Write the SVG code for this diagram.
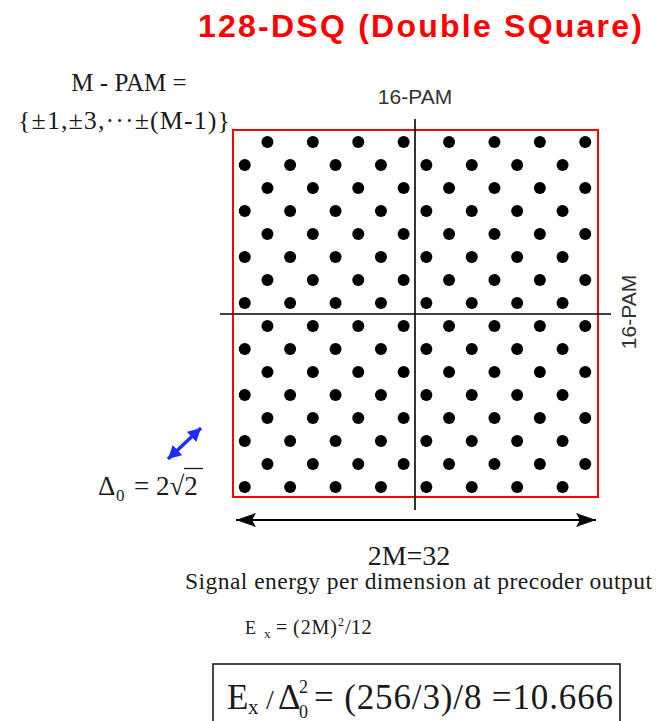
<svg xmlns="http://www.w3.org/2000/svg" width="660" height="721" viewBox="0 0 660 721">
<style>
.serif{font-family:"Liberation Serif","Times New Roman",serif;fill:#1a1a1a}
.sans{font-family:"Liberation Sans",Arial,sans-serif;fill:#333}
.dot{fill:#000}
.axis{stroke:#000;stroke-width:1.6;fill:none}
</style>
<defs>
<marker id="ahBlack" markerUnits="userSpaceOnUse" markerWidth="22" markerHeight="16" refX="20" refY="7" orient="auto-start-reverse">
<path d="M0,0 L20,7 L0,14 L4,7 z" fill="#000"/>
</marker>
<marker id="ahBlue" markerUnits="userSpaceOnUse" markerWidth="16" markerHeight="16" refX="13" refY="7" orient="auto-start-reverse">
<path d="M0,0 L13,7 L0,14 z" fill="#1f2bff"/>
</marker>
<g id="rowA">
<circle class="dot" cx="267.45" cy="0" r="6"/>
<circle class="dot" cx="312.85" cy="0" r="6"/>
<circle class="dot" cx="358.25" cy="0" r="6"/>
<circle class="dot" cx="403.65" cy="0" r="6"/>
<circle class="dot" cx="449.05" cy="0" r="6"/>
<circle class="dot" cx="494.45" cy="0" r="6"/>
<circle class="dot" cx="539.85" cy="0" r="6"/>
<circle class="dot" cx="585.25" cy="0" r="6"/>
</g>
<g id="rowB">
<circle class="dot" cx="244.75" cy="0" r="6"/>
<circle class="dot" cx="290.15" cy="0" r="6"/>
<circle class="dot" cx="335.55" cy="0" r="6"/>
<circle class="dot" cx="380.95" cy="0" r="6"/>
<circle class="dot" cx="426.35" cy="0" r="6"/>
<circle class="dot" cx="471.75" cy="0" r="6"/>
<circle class="dot" cx="517.15" cy="0" r="6"/>
<circle class="dot" cx="562.55" cy="0" r="6"/>
</g>
</defs>

<g id="title">
<text x="198" y="37" font-family="Liberation Sans, Arial, sans-serif" font-weight="bold" font-size="32" fill="#ff0000" textLength="444">128-DSQ (Double SQuare)</text>
</g>

<g id="mpam-label">
<text class="serif" x="129" y="91" font-size="25" text-anchor="middle">M - PAM =</text>
<text class="serif" x="18" y="129" font-size="26" textLength="212">{±1,±3,···±(M-1)}</text>
</g>

<g id="constellation">
<rect x="233" y="130" width="365" height="367" fill="none" stroke="#ff0000" stroke-width="2"/>
<use href="#rowA" y="142"/>
<use href="#rowB" y="165"/>
<use href="#rowA" y="188"/>
<use href="#rowB" y="211"/>
<use href="#rowA" y="234"/>
<use href="#rowB" y="257"/>
<use href="#rowA" y="280"/>
<use href="#rowB" y="303"/>
<use href="#rowA" y="326"/>
<use href="#rowB" y="349"/>
<use href="#rowA" y="372"/>
<use href="#rowB" y="395"/>
<use href="#rowA" y="418"/>
<use href="#rowB" y="441"/>
<use href="#rowA" y="464"/>
<use href="#rowB" y="487"/>
</g>

<g id="connectors">
<line class="axis" x1="415" y1="119" x2="415" y2="510"/>
<line class="axis" x1="220" y1="314" x2="611" y2="314"/>
<line x1="236" y1="520" x2="596" y2="520" stroke="#000" stroke-width="2" marker-start="url(#ahBlack)" marker-end="url(#ahBlack)"/>
<line x1="168" y1="459" x2="201" y2="428" stroke="#1f2bff" stroke-width="3.5" marker-start="url(#ahBlue)" marker-end="url(#ahBlue)"/>
</g>

<g id="pam-top">
<text class="sans" x="415" y="104" font-size="21" text-anchor="middle">16-PAM</text>
</g>
<g id="pam-right">
<text class="sans" x="0" y="0" font-size="21" text-anchor="middle" transform="translate(636,312) rotate(-90)">16-PAM</text>
</g>

<g id="delta-label">
<text class="serif" x="98" y="495" font-size="27">Δ</text>
<text class="serif" x="116" y="501" font-size="17">0</text>
<text class="serif" x="134" y="495" font-size="27">=</text>
<text class="serif" x="156" y="495" font-size="27">2√2</text>
<line x1="184" y1="468.5" x2="203" y2="468.5" stroke="#1a1a1a" stroke-width="1.3"/>
</g>

<g id="width-label">
<text class="serif" x="409" y="565" font-size="28" text-anchor="middle">2M=32</text>
</g>

<g id="energy-text">
<text class="serif" x="185" y="589" font-size="23.5" textLength="467">Signal energy per dimension at precoder output</text>
</g>

<g id="ex-formula">
<text class="serif" x="245" y="634" font-size="18">E</text>
<text class="serif" x="264" y="638" font-size="13">x</text>
<text class="serif" x="276" y="634" font-size="20">=</text>
<text class="serif" x="293" y="634" font-size="20" textLength="44">(2M)</text>
<text class="serif" x="338" y="626" font-size="12">2</text>
<text class="serif" x="345" y="634" font-size="21">/12</text>
</g>

<g id="result-box">
<rect x="213" y="664" width="407" height="70" fill="none" stroke="#1a1a1a" stroke-width="1.6"/>
<text class="serif" x="227" y="709" font-size="35">E</text>
<text class="serif" x="248" y="714" font-size="21">x</text>
<text class="serif" x="266" y="709" font-size="28">/</text>
<text class="serif" x="278" y="709" font-size="35">Δ</text>
<text class="serif" x="299" y="693" font-size="18">2</text>
<text class="serif" x="299" y="718" font-size="18">0</text>
<text class="serif" x="314" y="709" font-size="35" textLength="299">= (256/3)/8 =10.666</text>
</g>
</svg>
